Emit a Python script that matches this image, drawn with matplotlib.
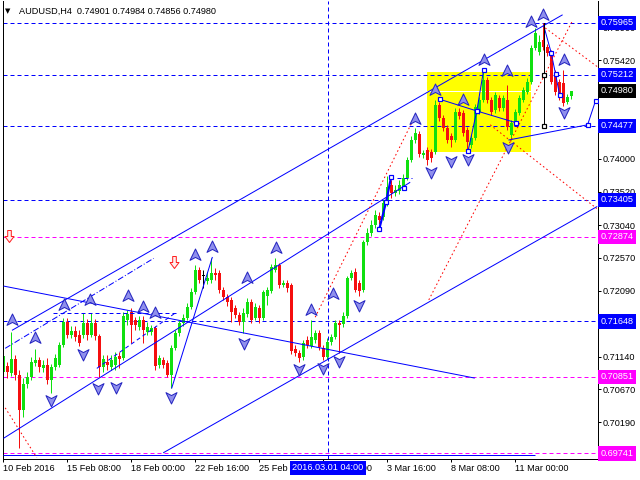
import matplotlib
matplotlib.use("Agg")
import matplotlib.pyplot as plt
import matplotlib.transforms as mtransforms
from matplotlib.path import Path
from matplotlib.patches import Rectangle
import numpy as np

plt.rcParams['font.family'] = ['Liberation Sans', 'DejaVu Sans']
plt.rcParams['lines.scale_dashes'] = False

# ---------------- data (H4 bars, index 0 = 10 Feb 2016 16:00) ----------------
bar_open = [
0.7092, 0.7100, 0.7090, 0.7111, 0.7087, 0.7037, 0.7074, 0.7085, 0.7105, 0.7109,
0.7098, 0.7102, 0.7080, 0.7099, 0.7102, 0.7131, 0.7164, 0.7145, 0.7151, 0.7145,
0.7145, 0.7163, 0.7145, 0.7163, 0.7144, 0.7099, 0.7106, 0.7099, 0.7102, 0.7115,
0.7112, 0.7167, 0.7178, 0.7167, 0.7157, 0.7167, 0.7150, 0.7150, 0.7155, 0.7102,
0.7109, 0.7105, 0.7087, 0.7126, 0.7148, 0.7163, 0.7170, 0.7186, 0.7207, 0.7239,
0.7231, 0.7223, 0.7225, 0.7235, 0.7235, 0.7210, 0.7200, 0.7196, 0.7184, 0.7174,
0.7164, 0.7176, 0.7193, 0.7170, 0.7184, 0.7170, 0.7202, 0.7209, 0.7239, 0.7246,
0.7218, 0.7220, 0.7218, 0.7125, 0.7119, 0.7113, 0.7138, 0.7129, 0.7138, 0.7148,
0.7126, 0.7113, 0.7135, 0.7142, 0.7163, 0.7161, 0.7173, 0.7228, 0.7236, 0.7220,
0.7210, 0.7280, 0.7293, 0.7304, 0.7317, 0.7316, 0.7336, 0.7362, 0.7350, 0.7353,
0.7359, 0.7372, 0.7398, 0.7427, 0.7436, 0.7405, 0.7413, 0.7410, 0.7410, 0.7478,
0.7459, 0.7444, 0.7433, 0.7427, 0.7467, 0.7466, 0.7441, 0.7420, 0.7430, 0.7467,
0.7485, 0.7514, 0.7485, 0.7470, 0.7488, 0.7473, 0.7485, 0.7434, 0.7452, 0.7466,
0.7485, 0.7496, 0.7511, 0.7560, 0.7554, 0.7572, 0.7561, 0.7553, 0.7524, 0.7511,
0.7509, 0.7482, 0.74901]
bar_high = [
0.7121, 0.7106, 0.7150, 0.7116, 0.7095, 0.7083, 0.7092, 0.7113, 0.7125, 0.7113,
0.7109, 0.7112, 0.7103, 0.7118, 0.7135, 0.7170, 0.7170, 0.7158, 0.7158, 0.7152,
0.7177, 0.7168, 0.7177, 0.7168, 0.7147, 0.7116, 0.7116, 0.7116, 0.7121, 0.7121,
0.7178, 0.7181, 0.7184, 0.7171, 0.7173, 0.7173, 0.7164, 0.7160, 0.7158, 0.7116,
0.7113, 0.7109, 0.7131, 0.7152, 0.7167, 0.7176, 0.7192, 0.7213, 0.7246, 0.7244,
0.7239, 0.7236, 0.7257, 0.7242, 0.7239, 0.7215, 0.7205, 0.7200, 0.7189, 0.7178,
0.7184, 0.7199, 0.7197, 0.7192, 0.7189, 0.7210, 0.7215, 0.7248, 0.7257, 0.7249,
0.7225, 0.7225, 0.7220, 0.7131, 0.7124, 0.7138, 0.7144, 0.7167, 0.7152, 0.7152,
0.7131, 0.7141, 0.7147, 0.7167, 0.7167, 0.7178, 0.7231, 0.7239, 0.7242, 0.7225,
0.7283, 0.7300, 0.7311, 0.7326, 0.7323, 0.7340, 0.7375, 0.7369, 0.7362, 0.7369,
0.7378, 0.7402, 0.7433, 0.7444, 0.7440, 0.7413, 0.7417, 0.7414, 0.7485, 0.7482,
0.7463, 0.7449, 0.7437, 0.7473, 0.7473, 0.7470, 0.7446, 0.7434, 0.7479, 0.7489,
0.7528, 0.7518, 0.7489, 0.7496, 0.7492, 0.7492, 0.7506, 0.7456, 0.7472, 0.7492,
0.7504, 0.7517, 0.7564, 0.7589, 0.7579, 0.75965, 0.7566, 0.7557, 0.7528, 0.7515,
0.7528, 0.7494, 0.74984]
bar_low = [
0.7066, 0.7083, 0.7086, 0.7080, 0.6982, 0.7027, 0.7069, 0.7080, 0.7100, 0.7092,
0.7092, 0.7074, 0.7061, 0.7095, 0.7099, 0.7128, 0.7141, 0.7141, 0.7137, 0.7129,
0.7141, 0.7138, 0.7142, 0.7138, 0.7085, 0.7092, 0.7095, 0.7095, 0.7095, 0.7098,
0.7109, 0.7160, 0.7134, 0.7152, 0.7152, 0.7134, 0.7145, 0.7145, 0.7095, 0.7098,
0.7098, 0.7085, 0.7069, 0.7124, 0.7144, 0.7158, 0.7167, 0.7183, 0.7205, 0.7220,
0.7213, 0.7219, 0.7220, 0.7225, 0.7206, 0.7196, 0.7187, 0.7164, 0.7170, 0.7160,
0.7148, 0.7171, 0.7163, 0.7167, 0.7163, 0.7167, 0.7189, 0.7206, 0.7236, 0.7213,
0.7215, 0.7207, 0.7118, 0.7115, 0.7106, 0.7109, 0.7126, 0.7126, 0.7134, 0.7124,
0.7109, 0.7111, 0.7131, 0.7139, 0.7119, 0.7157, 0.7170, 0.7225, 0.7207, 0.7202,
0.7207, 0.7275, 0.7288, 0.7300, 0.7306, 0.7311, 0.7332, 0.7343, 0.7346, 0.7349,
0.7355, 0.7369, 0.7395, 0.7423, 0.7402, 0.7401, 0.7391, 0.7395, 0.7407, 0.7454,
0.7440, 0.7423, 0.7417, 0.7424, 0.7457, 0.7433, 0.7410, 0.7415, 0.7427, 0.7465,
0.7482, 0.7480, 0.7463, 0.7466, 0.7469, 0.7469, 0.7441, 0.7427, 0.7449, 0.7463,
0.7482, 0.7494, 0.7508, 0.7557, 0.7550, 0.7557, 0.7548, 0.7508, 0.7492, 0.7485,
0.7476, 0.7479, 0.74856]
bar_close = [
0.7115, 0.7092, 0.7111, 0.7087, 0.7037, 0.7074, 0.7085, 0.7106, 0.7109, 0.7099,
0.7102, 0.7080, 0.7099, 0.7112, 0.7131, 0.7164, 0.7145, 0.7151, 0.7142, 0.7134,
0.7163, 0.7145, 0.7163, 0.7144, 0.7099, 0.7111, 0.7102, 0.7109, 0.7113, 0.7111,
0.7173, 0.7176, 0.7160, 0.7160, 0.7167, 0.7152, 0.7157, 0.7155, 0.7100, 0.7112,
0.7102, 0.7087, 0.7126, 0.7148, 0.7163, 0.7170, 0.7186, 0.7207, 0.7239, 0.7225,
0.7231, 0.7228, 0.7235, 0.7232, 0.7210, 0.7200, 0.7193, 0.7178, 0.7174, 0.7164,
0.7177, 0.7193, 0.7167, 0.7186, 0.7170, 0.7207, 0.7210, 0.7244, 0.7246, 0.7218,
0.7220, 0.7213, 0.7122, 0.7119, 0.7112, 0.7134, 0.7131, 0.7142, 0.7148, 0.7128,
0.7113, 0.7135, 0.7142, 0.7163, 0.7160, 0.7173, 0.7228, 0.7235, 0.7210, 0.7209,
0.7280, 0.7293, 0.7304, 0.7319, 0.7311, 0.7336, 0.7359, 0.7350, 0.7355, 0.7362,
0.7372, 0.7398, 0.7427, 0.7437, 0.7407, 0.7408, 0.7398, 0.7401, 0.7478, 0.7459,
0.7444, 0.7427, 0.7427, 0.7467, 0.7462, 0.7437, 0.7424, 0.7430, 0.7475, 0.7485,
0.7514, 0.7485, 0.7467, 0.7492, 0.7473, 0.7488, 0.7446, 0.7452, 0.7467, 0.7488,
0.7499, 0.7511, 0.7560, 0.7582, 0.7569, 0.7561, 0.7553, 0.7511, 0.7496, 0.7489,
0.7480, 0.7489, 0.74980]

symbol = "AUDUSD,H4"
time_tick_idx = [0, 16, 32, 48, 64, 80, 96, 112, 128]
time_tick_labels = ["10 Feb 2016", "15 Feb 08:00", "18 Feb 00:00", "22 Feb 16:00",
                    "25 Feb 08:00", "1 Mar 00:00", "3 Mar 16:00", "8 Mar 08:00",
                    "11 Mar 00:00"]
cursor_idx = 81.2
cursor_label = "2016.03.01 04:00"

price_ticks = [0.75900, 0.75420, 0.74000, 0.73520, 0.73040,
               0.72570, 0.72090, 0.71610, 0.71140, 0.70670, 0.70190, 0.69710]
levels_blue = [0.75965, 0.75212, 0.74477, 0.73405, 0.71648]
levels_magenta = [0.72874, 0.70851, 0.69741]
bid_price = 0.74980

# fractal arrows
up_i = [2.1, 7.9, 15.1, 21.7, 31.1, 35.0, 38.0, 48.0, 52.1, 61.0, 68.1, 77.0, 82.4,
        103.0, 108.0, 115.0, 120.2, 126.0, 132.0, 135.0, 140.3]
up_p = [0.7167, 0.7141, 0.7189, 0.7196, 0.7201, 0.7186, 0.7177, 0.7261, 0.7273, 0.7227,
        0.7271, 0.7181, 0.7205, 0.7458, 0.7500, 0.7485, 0.7543, 0.7527, 0.7597, 0.7608,
        0.7543]
dn_i = [12.0, 20.0, 23.75, 28.1, 41.9, 60.2, 74.0, 79.85, 84.0, 89.0, 106.9, 112.0,
        116.1, 126.1, 140.1]
dn_p = [0.7051, 0.7118, 0.7068, 0.7070, 0.7056, 0.7133, 0.7096, 0.7097, 0.7108, 0.7189,
        0.7381, 0.7397, 0.7399, 0.7417, 0.7468]
sell_i = [1.5, 42.6]
sell_p = [0.7288, 0.7251]

# trend lines (bar index, price)
ch_upper_i, ch_upper_p = [2.2, 139.85], [0.7152, 0.7608]
ch_mid_i, ch_mid_p = [0.08, 101.75], [0.6996, 0.7366]
ch_lower_i, ch_lower_p = [40.0, 148.5], [0.6975, 0.7331]
desc_i, desc_p = [0.08, 117.9], [0.7216, 0.7083]
base_i, base_p = [0.0, 133.0], [0.6972, 0.6972]
swing_i, swing_p = [42.1, 52.3], [0.7068, 0.7258]
hdash_i, hdash_p = [12.5, 43.25], [0.7177, 0.7177]
ddash_i, ddash_p = [0.5, 37.6], [0.7126, 0.7256]
ddash2_i, ddash2_p = [23.4, 43.0], [0.7097, 0.7177]

zz1_i, zz1_p = [94.0, 95.7, 97.0], [0.7298, 0.7337, 0.7374]
zz1b_i, zz1b_p = [100.1], [0.7358]
zz1d_i, zz1d_p = [98.5, 102.25], [0.7372, 0.7372]

yz_a_i, yz_a_p = [109.1, 118.4, 128.2], [0.7486, 0.7469, 0.7452]
yz_b_i, yz_b_p = [116.2, 118.4, 120.1], [0.7411, 0.7469, 0.7528]
yz_c_i, yz_c_p = [126.3, 146.1, 148.1], [0.7427, 0.7449, 0.7484]
vbar_i, vbar_p = [135.1, 135.1], [0.7596, 0.7446]
vsq_p = [0.75212, 0.74477]
zz2_i, zz2_p = [135.1, 137.0, 138.1, 139.1], [0.7593, 0.7553, 0.7522, 0.7492]

red1_i, red1_p = [0.5, 8.4], [0.7040, 0.6968]
red2_i, red2_p = [78.0, 102.75], [0.7171, 0.7459]
red3_i, red3_p = [106.4, 142.2], [0.7196, 0.7598]
red4_i, red4_p = [121.75, 148.4], [0.7449, 0.7328]
red5_i, red5_p = [135.5, 148.75], [0.7589, 0.7532]

box_i = [105.9, 131.9]
box_p = [0.7409, 0.7526]

# ---------------- figure ----------------
W, H = 640, 480
fig = plt.figure(figsize=(W / 100, H / 100), dpi=100)
ax = fig.add_axes([3 / W, 21 / H, 595 / W, 458 / H])
ax.set_xlim(-0.05, 148.7)
ax.set_ylim(0.69661, 0.76279)

BLUE = '#0000ff'
MAG = '#ff00ff'
GREEN = '#10e010'
RED = '#f50f0f'
PX = 0.72
dash = (0, (4 * PX, 3 * PX))
dot = (0, (1.6 * PX, 2.6 * PX))

# yellow box
ax.add_patch(Rectangle((box_i[0], box_p[0]), box_i[1] - box_i[0], box_p[1] - box_p[0],
                       facecolor='#ffff00', edgecolor='none', zorder=0.5))

# horizontal levels
for p in levels_blue:
    ax.axhline(p, color=BLUE, lw=1 * PX, ls=dash, zorder=1.5)
for p in levels_magenta:
    ax.axhline(p, color=MAG, lw=1 * PX, ls=dash, zorder=1.5)
ax.axhline(bid_price, color='white', lw=1 * PX, zorder=1.2)
ax.axvline(cursor_idx, color=BLUE, lw=1 * PX, ls=dash, zorder=1.5)

# candles
o = np.array(bar_open); h = np.array(bar_high); l = np.array(bar_low); c = np.array(bar_close)
idx = np.arange(len(o))
cols = np.where(c > o, GREEN, np.where(c < o, RED, 'black'))
ax.vlines(idx, l, h, colors=cols, lw=1 * PX, zorder=2)
body = np.where(np.abs(c - o) < 1e-9, 0.00004, c - o)
ax.bar(idx, body, bottom=o, width=0.75, color=cols, linewidth=0, zorder=2)

# trend lines
lw1 = 1 * PX
for xi, yp in [(ch_upper_i, ch_upper_p), (ch_mid_i, ch_mid_p), (ch_lower_i, ch_lower_p),
               (desc_i, desc_p), (base_i, base_p), (swing_i, swing_p),
               (yz_a_i, yz_a_p), (yz_b_i, yz_b_p), (yz_c_i, yz_c_p), (zz2_i, zz2_p)]:
    ax.plot(xi, yp, color=BLUE, lw=lw1, zorder=3, solid_capstyle='butt')
ax.plot(hdash_i, hdash_p, color=BLUE, lw=lw1, ls=dash, zorder=3)
ax.plot(ddash_i, ddash_p, color=BLUE, lw=lw1, ls=(0, (6 * PX, 2 * PX, 1 * PX, 2 * PX)), zorder=3)
ax.plot(ddash2_i, ddash2_p, color=BLUE, lw=lw1, ls=dash, zorder=3)
ax.plot(zz1d_i, zz1d_p, color=BLUE, lw=lw1, ls=dash, zorder=3)
ax.plot(zz1_i, zz1_p, color=BLUE, lw=2.2 * PX, zorder=3)
ax.plot(vbar_i, vbar_p, color='black', lw=lw1, zorder=3)

for xi, yp in [(red1_i, red1_p), (red2_i, red2_p), (red3_i, red3_p),
               (red4_i, red4_p), (red5_i, red5_p)]:
    ax.plot(xi, yp, color='#ff0000', lw=lw1, ls=dot, zorder=3)

# squares
sq = dict(marker='s', ms=5 * PX, mfc='white', mew=1.2 * PX, ls='none', zorder=4)
ax.plot(zz1_i + zz1b_i, zz1_p + zz1b_p, mec=BLUE, **sq)
ax.plot(yz_a_i + yz_b_i, yz_a_p + yz_b_p, mec=BLUE, **sq)
ax.plot(yz_c_i[1:], yz_c_p[1:], mec=BLUE, **sq)
ax.plot(zz2_i[1:], zz2_p[1:], mec=BLUE, **sq)
ax.plot([vbar_i[0]] * len(vsq_p), vsq_p, mec='black', **sq)

# fractal arrows
up_path = Path([(0, 1), (0.85, -0.75), (0, -0.3), (-0.85, -0.75), (0, 1)],
               [Path.MOVETO, Path.LINETO, Path.LINETO, Path.LINETO, Path.CLOSEPOLY])
dn_path = Path([(0, -1), (0.85, 0.75), (0, 0.3), (-0.85, 0.75), (0, -1)],
               [Path.MOVETO, Path.LINETO, Path.LINETO, Path.LINETO, Path.CLOSEPOLY])
arr = dict(ls='none', ms=13 * PX, mfc='#8f8fec', mec='#2424c0', mew=1.0 * PX, zorder=5)
ax.plot(up_i, up_p, marker=up_path, **arr)
ax.plot(dn_i, dn_p, marker=dn_path, **arr)
sell_path = Path([(-0.3, 1), (0.3, 1), (0.3, 0), (0.75, 0), (0, -1), (-0.75, 0), (-0.3, 0), (-0.3, 1)],
                 [Path.MOVETO] + [Path.LINETO] * 6 + [Path.CLOSEPOLY])
ax.plot(sell_i, sell_p, marker=sell_path, ls='none', ms=12 * PX, mfc='#fff0f0',
        mec='#ff2020', mew=1 * PX, zorder=5)

# axes styling
ax.spines['top'].set_visible(False)
for s in ['left', 'right', 'bottom']:
    ax.spines[s].set_linewidth(1 * PX)
    ax.spines[s].set_color('black')
ax.set_facecolor('white')
FS = 6.6
ax.yaxis.tick_right()
ax.set_yticks(price_ticks)
ax.set_yticklabels([f"{v:.5f}" for v in price_ticks])
ax.tick_params(axis='y', length=3 * PX, width=1 * PX, pad=1.5, labelsize=FS, direction='out')
ax.set_xticks(time_tick_idx)
ax.set_xticklabels(time_tick_labels, ha='left')
ax.tick_params(axis='x', length=3 * PX, width=1 * PX, pad=1.2, labelsize=FS, direction='out')

# price labels on axis
ytr = mtransforms.blended_transform_factory(ax.transAxes, ax.transData)
x_lab = 1 + 2.5 / 595
for p in levels_blue:
    ax.text(x_lab, p, f"{p:.5f}", transform=ytr, ha='left', va='center', fontsize=FS,
            color='white', clip_on=False, zorder=6,
            bbox=dict(boxstyle='square,pad=0.28', fc=BLUE, ec='none'))
for p in levels_magenta:
    ax.text(x_lab, p, f"{p:.5f}", transform=ytr, ha='left', va='center', fontsize=FS,
            color='white', clip_on=False, zorder=6,
            bbox=dict(boxstyle='square,pad=0.28', fc=MAG, ec='none'))
ax.text(x_lab, bid_price, f"{bid_price:.5f}", transform=ytr, ha='left', va='center', fontsize=FS,
        color='white', clip_on=False, zorder=6,
        bbox=dict(boxstyle='square,pad=0.28', fc='black', ec='none'))

# cursor time label
xtr = mtransforms.blended_transform_factory(ax.transData, fig.transFigure)
ax.text(cursor_idx, 1 - 468 / H, cursor_label, transform=xtr, ha='center', va='center',
        fontsize=FS, color='white', clip_on=False, zorder=6,
        bbox=dict(boxstyle='square,pad=0.3', fc=BLUE, ec='none'))

# title
fig.text(5 / W, 1 - 11 / H, "\u25bc", fontsize=5, va='center', ha='left', family='DejaVu Sans')
fig.text(19 / W, 1 - 11 / H,
         f"{symbol}  {o[-1]:.5f} {h[-1]:.5f} {l[-1]:.5f} {c[-1]:.5f}",
         fontsize=FS, va='center', ha='left')

fig.savefig("out.png", dpi=100)
